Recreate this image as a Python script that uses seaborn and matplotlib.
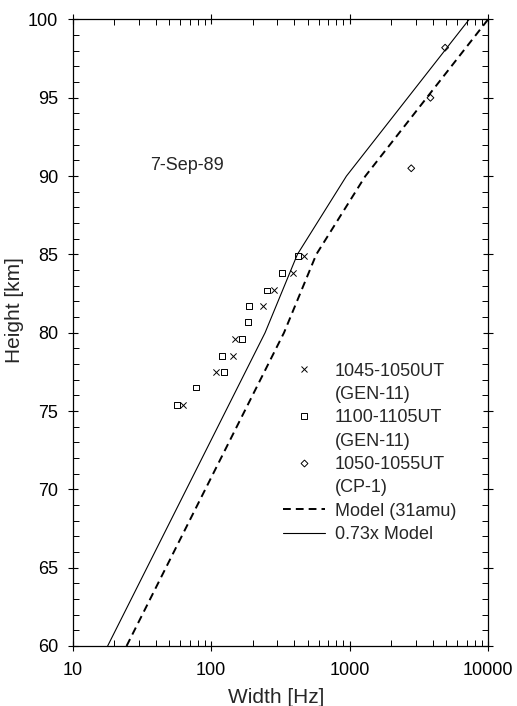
import matplotlib
matplotlib.use("Agg")
import matplotlib.pyplot as plt
from matplotlib.lines import Line2D
from matplotlib.ticker import FixedLocator, FixedFormatter, MultipleLocator, NullFormatter
import numpy as np
import pandas as pd
import seaborn as sns

# GEN-11 spectral widths, 1045-1050 UT
gen_early_width = [471, 391, 285, 238, 149, 144, 109, 62.7]
gen_early_height = [84.9, 83.8, 82.7, 81.7, 79.6, 78.5, 77.5, 75.4]

# GEN-11 spectral widths, 1100-1105 UT
gen_late_width = [426, 326, 254, 188, 185, 167, 120, 124, 78, 56.8]
gen_late_height = [84.9, 83.8, 82.7, 81.7, 80.7, 79.6, 78.5, 77.5, 76.5, 75.4]

# CP-1 spectral widths, 1050-1055 UT
cp1_width = [4900, 3840, 2790]
cp1_height = [98.2, 95.0, 90.5]

# Model width profile for 31 amu ions and its scaled version
model_height = [60, 80, 85, 90, 100]
model_width = [24.5, 336, 575, 1300, 10000]
model_scale = 0.73

x_ticks = [10, 100, 1000, 10000]
x_tick_labels = ["10", "100", "1000", "10000"]
y_ticks = [60, 65, 70, 75, 80, 85, 90, 95, 100]

sns.set_style("ticks")
plt.rcParams["font.family"] = ["Liberation Sans", "DejaVu Sans"]

fig = plt.figure(figsize=(5.17, 7.06), dpi=100)
ax = fig.add_axes([0.1406, 0.085, 0.8033, 0.8874])

model = pd.DataFrame({"height": model_height, "width": model_width})
model["scaled"] = model["width"] * model_scale

dash = (0, (4.0, 2.6))
sns.lineplot(data=model, x="width", y="height", sort=False, estimator=None,
             ax=ax, color="black", linewidth=1.4, linestyle=dash)
sns.lineplot(data=model, x="scaled", y="height", sort=False, estimator=None,
             ax=ax, color="black", linewidth=0.8)

sns.scatterplot(x=gen_early_width, y=gen_early_height, ax=ax, marker="x",
                s=20, color="black", linewidth=0.7)
sns.scatterplot(x=gen_late_width, y=gen_late_height, ax=ax, marker="s",
                s=16, facecolor="none", edgecolor="black", linewidth=0.7)
sns.scatterplot(x=cp1_width, y=cp1_height, ax=ax, marker="D",
                s=12, facecolor="none", edgecolor="black", linewidth=0.7)

ax.set_xscale("log")
ax.set_xlim(10, 10000)
ax.set_ylim(60, 100)

ax.xaxis.set_major_locator(FixedLocator(x_ticks))
ax.xaxis.set_major_formatter(FixedFormatter(x_tick_labels))
minor_x = [m * 10 ** e for e in range(1, 4) for m in range(2, 10)]
ax.xaxis.set_minor_locator(FixedLocator(minor_x))
ax.xaxis.set_minor_formatter(NullFormatter())
ax.yaxis.set_major_locator(FixedLocator(y_ticks))
ax.yaxis.set_minor_locator(MultipleLocator(1))

for side in ["top", "right", "left", "bottom"]:
    ax.spines[side].set_visible(True)
    ax.spines[side].set_linewidth(0.9)
    ax.spines[side].set_color("black")

ax.tick_params(which="major", direction="inout", length=7, width=0.8,
               labelsize=13, top=True, right=True, colors="black")
ax.tick_params(axis="x", which="major", pad=8)
ax.tick_params(axis="y", which="major", pad=7)
ax.tick_params(which="minor", direction="in", length=4, width=0.7,
               top=True, right=True, colors="black")

ax.set_xlabel("Width [Hz]", fontsize=15)
ax.set_ylabel("Height [km]", fontsize=15)
ax.xaxis.set_label_coords(0.49, -0.067)
ax.yaxis.set_label_coords(-0.118, 0.536)

ax.text(36.2, 90.7, "7-Sep-89", fontsize=13, ha="left", va="center")

blank = Line2D([], [], linestyle="none", marker=None)
handles = [
    Line2D([], [], linestyle="none", marker="x", markersize=4.5,
           color="black", markeredgewidth=0.7),
    blank,
    Line2D([], [], linestyle="none", marker="s", markersize=4,
           markerfacecolor="none", markeredgecolor="black", markeredgewidth=0.7),
    blank,
    Line2D([], [], linestyle="none", marker="D", markersize=3.5,
           markerfacecolor="none", markeredgecolor="black", markeredgewidth=0.7),
    blank,
    Line2D([], [], color="black", linewidth=1.4, linestyle=dash),
    Line2D([], [], color="black", linewidth=0.8),
]
labels = ["1045-1050UT", "(GEN-11)", "1100-1105UT", "(GEN-11)",
          "1050-1055UT", "(CP-1)", "Model (31amu)", "0.73x Model"]
ax.legend(handles, labels, loc="upper left", bbox_to_anchor=(0.506, 0.452),
          frameon=False, fontsize=13, borderpad=0, borderaxespad=0,
          handlelength=2.33, handletextpad=0.55, labelspacing=0.35)

fig.savefig("out.png", dpi=100)
